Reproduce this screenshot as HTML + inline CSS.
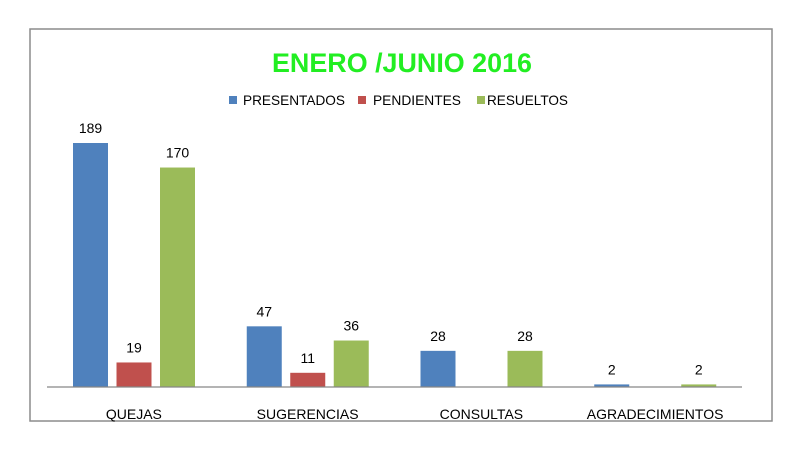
<!DOCTYPE html>
<html><head><meta charset="utf-8"><style>
html,body{margin:0;padding:0;background:#fff;}
svg{display:block;font-family:"Liberation Sans",sans-serif;}
</style></head><body>
<svg id="chart" width="800" height="455" viewBox="0 0 800 455">
<rect x="30" y="29" width="742" height="392" fill="#fff" stroke="#8c8c8c" stroke-width="1.5"/>
<text x="402" y="72" text-anchor="middle" font-size="27" font-weight="bold" fill="#22ee22" textLength="260" lengthAdjust="spacingAndGlyphs">ENERO /JUNIO 2016</text>
<g>
<g><rect x="229" y="96" width="8" height="8" fill="#4f81bd"/><text x="243" y="105" font-size="14" fill="#000" textLength="102" lengthAdjust="spacingAndGlyphs">PRESENTADOS</text></g>
<g><rect x="358" y="96" width="8" height="8" fill="#c0504d"/><text x="373" y="105" font-size="14" fill="#000" textLength="88" lengthAdjust="spacingAndGlyphs">PENDIENTES</text></g>
<g><rect x="477" y="96" width="8" height="8" fill="#9bbb59"/><text x="487" y="105" font-size="14" fill="#000" textLength="81" lengthAdjust="spacingAndGlyphs">RESUELTOS</text></g>
</g>
<g id="plot"></g>
</svg>
<script>
const categories = ["QUEJAS","SUGERENCIAS","CONSULTAS","AGRADECIMIENTOS"];
const presentados = [189,47,28,2];
const pendientes = [19,11,0,0];
const resueltos = [170,36,28,2];
const seriesNames = ["presentados","pendientes","resueltos"];
const colors = ["#4f81bd","#c0504d","#9bbb59"];
const series=[presentados,pendientes,resueltos];
const x0=47,x1=742,baseY=387,pxPerUnit=244/189;
const groupW=(x1-x0)/categories.length;
const y=v=>baseY-v*pxPerUnit;
const xBar=(i,s)=>x0+i*groupW+26+s*43.5;
const g=document.getElementById('plot');
const NS="http://www.w3.org/2000/svg";
function mk(t,a){const e=document.createElementNS(NS,t);for(const k in a)e.setAttribute(k,a[k]);g.appendChild(e);return e;}
series.forEach((arr,s)=>{arr.forEach((v,i)=>{
  if(v<=0)return;
  const r=mk('rect',{x:xBar(i,s),y:y(v),width:35,height:v*pxPerUnit,fill:colors[s]});
  
  
  const t=mk('text',{x:xBar(i,s)+17.5,y:y(v)-10,'text-anchor':'middle','font-size':'14',fill:'#000'});
  t.textContent=v;
  
  
});});
const ax=mk('line',{x1:x0,y1:baseY,x2:x1,y2:baseY,stroke:'#868686','stroke-width':1.2});


categories.forEach((c,i)=>{
  const t=mk('text',{x:x0+groupW*(i+0.5),y:419,'text-anchor':'middle','font-size':'14',fill:'#000'});
  t.textContent=c;
  
  
});
</script>
</body></html>
